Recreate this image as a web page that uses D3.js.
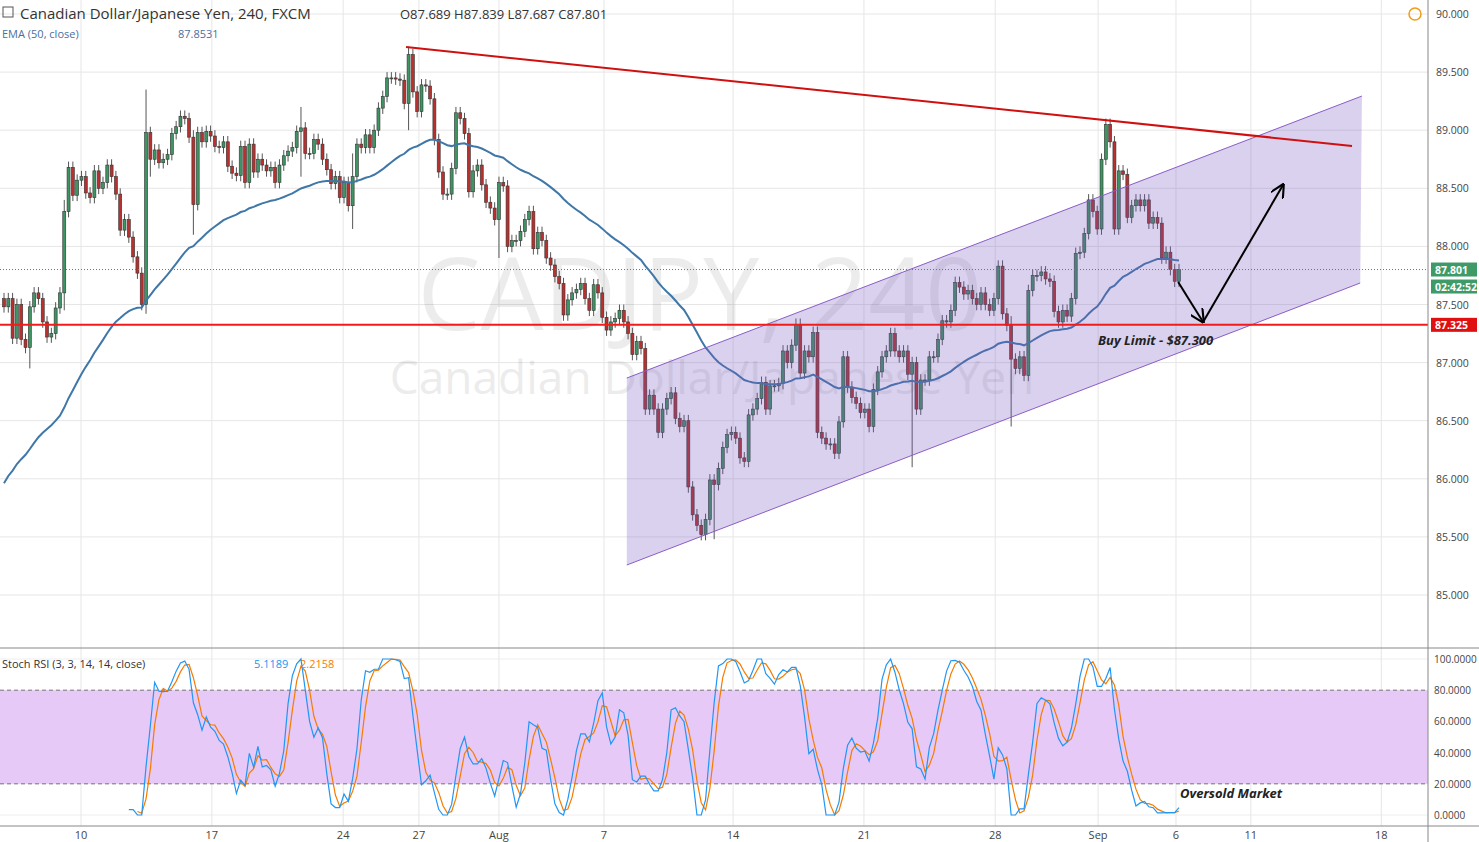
<!DOCTYPE html>
<html><head><meta charset="utf-8">
<script src="https://cdn.jsdelivr.net/npm/d3@7"></script>
<style>body{margin:0;background:#fff;font-family:"Open Sans",sans-serif}</style>
</head><body><div id="chart"></div>
<script>
// 4h closes of CAD/JPY (open = previous close)
const closes = [
87.48,87.55,87.21,87.5,87.2,87.13,87.48,87.6,87.55,87.35,87.22,87.25,
87.47,87.6,88.3,88.68,88.44,88.57,88.6,88.46,88.42,88.65,
88.5,88.55,88.7,88.6,88.45,88.14,88.23,88.08,87.91,87.77,
87.5,88.98,88.75,88.83,88.72,88.75,88.79,88.97,89.03,89.12,
89.1,88.94,88.36,88.98,88.9,88.99,88.95,88.86,88.85,88.9,
88.69,88.63,88.61,88.86,88.55,
88.88,88.64,88.75,88.7,88.65,88.68,88.55,88.7,88.78,88.82,
88.85,88.99,89.02,88.8,88.8,88.92,88.88,88.75,88.66,88.54,
88.6,88.42,88.55,88.35,88.6,88.88,88.85,88.96,88.85,89.0,
89.19,89.29,89.45,89.45,89.44,89.43,89.23,89.65,89.33,89.16,
89.39,89.38,89.27,88.92,88.64,88.45,88.45,88.67,89.15,89.1,
88.97,88.47,88.65,88.7,88.53,88.38,88.33,
88.23,88.55,88.52,88.0,88.05,88.05,88.13,88.23,
88.3,87.98,88.12,88.05,87.9,87.84,87.74,87.68,87.41,87.54,
87.6,87.63,87.68,87.55,87.45,87.67,87.6,87.39,87.28,87.35,
87.38,87.45,87.35,87.25,87.07,87.18,87.12,86.6,86.72,86.6,
86.4,86.6,86.69,86.74,86.52,86.45,86.5,85.93,85.69,85.6,
85.52,85.65,85.99,85.95,86.09,86.27,
86.38,86.4,86.35,86.18,86.15,86.55,86.6,86.69,86.83,86.6,
86.8,86.8,86.82,87.1,87.0,87.15,87.33,86.91,87.1,87.05,
87.26,86.4,86.35,86.3,86.3,86.22,86.49,87.05,86.79,86.7,
86.65,86.57,86.6,86.45,86.77,86.92,87.05,87.1,87.25,87.1,
87.05,87.1,86.9,87.0,86.6,86.85,86.85,87.05,87.05,87.2,
87.36,87.35,87.45,87.69,87.65,
87.59,87.62,87.55,87.5,87.6,87.5,87.45,87.55,87.83,87.42,
87.32,87.03,86.95,87.05,86.89,87.62,87.75,87.75,87.78,87.72,
87.7,87.44,87.35,87.45,87.4,87.55,87.94,87.95,88.11,88.4,
88.3,88.15,88.75,89.05,88.9,88.15,88.65,88.62,88.25,88.35,
88.4,88.35,88.4,88.2,88.25,88.2,87.9,87.95,87.8,87.7,
87.8];
const firstOpen = 87.55;
// notable wicks [index, high, low]
const wicks = [[6,87.4,86.95],[14,88.4,87.45],[33,89.35,87.42],[34,89.0,88.6],[44,89.0,88.1],[69,89.2,88.6],
  [81,88.8,88.15],[94,89.72,89.0],[115,88.3,87.9],[165,86.0,85.48],[211,86.5,86.1],[234,87.4,86.45],
  [256,89.08,88.7],[257,89.05,88.85],[258,88.9,88.1]];
const emaStart = 85.9;
const tickIdx = [17.9,48.3,78.8,96.4,115,139.4,169.4,199.8,230.3,254.2,272.3,289.7,320];
const tickLab = ["10","17","24","27","Aug","7","14","21","28","Sep","6","11","18"];
const priceTicks = [85,85.5,86,86.5,87,87.5,88,88.5,89,89.5,90];
const stochTicks = [0,20,40,60,80,100];
const support = 87.325, lastPrice = 87.801;
const trend = [[93.4,89.716],[313.2,88.864]];
const chanLow = [[144.7,85.258],[315.1,87.685]];
const chanUp = [[144.7,86.867],[315.5,89.294]];
const arrowPts = [[272.8,87.694],[278.6,87.35],[297.2,88.53]];

const W = 1479, H = 842, plotR = 1428;
const svg = d3.select("#chart").append("svg").attr("width", W).attr("height", H);
const x = d3.scaleLinear().domain([0, closes.length - 1]).range([4, 1179]);
const y = d3.scaleLinear().domain([85, 90]).range([595, 14]);
const ys = d3.scaleLinear().domain([0, 100]).range([815, 659]);
const bw = 3;

// grid
svg.append("g").selectAll("line").data(priceTicks).join("line")
  .attr("x1", 0).attr("x2", plotR).attr("y1", d => y(d)).attr("y2", d => y(d)).attr("stroke", "#e6e6e6");
svg.append("g").selectAll("line").data(stochTicks).join("line")
  .attr("x1", 0).attr("x2", plotR).attr("y1", d => ys(d)).attr("y2", d => ys(d)).attr("stroke", "#eee");
svg.append("g").selectAll("line").data(tickIdx).join("line")
  .attr("x1", d => x(d)).attr("x2", d => x(d)).attr("y1", 0).attr("y2", 826).attr("stroke", "#e6e6e6");

// watermark
svg.append("text").attr("x", 700).attr("y", 330).attr("text-anchor", "middle").attr("font-size", 100)
  .attr("fill", "#000").attr("opacity", 0.07).text("CADJPY, 240");
svg.append("text").attr("x", 712).attr("y", 394).attr("text-anchor", "middle").attr("font-size", 46)
  .attr("fill", "#000").attr("opacity", 0.07).text("Canadian Dollar/Japanese Yen");

// candles
const bars = closes.map((c, i) => {
  const o = i ? closes[i - 1] : firstOpen;
  let hi = Math.max(o, c) + 0.05, lo = Math.min(o, c) - 0.05;
  const w = wicks.find(v => v[0] === i);
  if (w) { hi = Math.max(hi, w[1]); lo = Math.min(lo, w[2]); }
  return {i, o, c, hi, lo};
});
const g = svg.append("g");
g.selectAll("line").data(bars).join("line")
  .attr("x1", d => x(d.i)).attr("x2", d => x(d.i)).attr("y1", d => y(d.hi)).attr("y2", d => y(d.lo))
  .attr("stroke", "#555").attr("stroke-width", 1);
g.selectAll("rect").data(bars).join("rect")
  .attr("x", d => x(d.i) - bw / 2).attr("width", bw)
  .attr("y", d => y(Math.max(d.o, d.c))).attr("height", d => Math.max(1, Math.abs(y(d.o) - y(d.c))))
  .attr("fill", d => d.c >= d.o ? "#3f9463" : "#b8312f").attr("stroke", "#333").attr("stroke-width", 0.6);

// EMA 50
const ema = [];
closes.forEach((c, i) => ema.push(i ? ema[i - 1] + (c - ema[i - 1]) * 2 / 51 : emaStart + (c - emaStart) * 2 / 51));
svg.append("path").datum(ema).attr("fill", "none").attr("stroke", "#3f77a8").attr("stroke-width", 2)
  .attr("d", d3.line().x((d, i) => x(i)).y(d => y(d)));

// channel
svg.append("path").attr("d", `M${x(chanUp[0][0])},${y(chanUp[0][1])}L${x(chanUp[1][0])},${y(chanUp[1][1])}L${x(chanLow[1][0])},${y(chanLow[1][1])}L${x(chanLow[0][0])},${y(chanLow[0][1])}Z`)
  .attr("fill", "rgba(120,90,190,0.28)");
[chanUp, chanLow].forEach(l => svg.append("line").attr("x1", x(l[0][0])).attr("y1", y(l[0][1]))
  .attr("x2", x(l[1][0])).attr("y2", y(l[1][1])).attr("stroke", "#8a5cc7").attr("stroke-width", 1));

// trend line and support
svg.append("line").attr("x1", x(trend[0][0])).attr("y1", y(trend[0][1])).attr("x2", x(trend[1][0])).attr("y2", y(trend[1][1]))
  .attr("stroke", "#d01010").attr("stroke-width", 2);
svg.append("line").attr("x1", 0).attr("x2", plotR).attr("y1", y(support)).attr("y2", y(support))
  .attr("stroke", "#f21b1b").attr("stroke-width", 2);
svg.append("line").attr("x1", 0).attr("x2", plotR).attr("y1", y(lastPrice)).attr("y2", y(lastPrice))
  .attr("stroke", "#4a8a6a").attr("stroke-dasharray", "1,2");

// arrows
const defs = svg.append("defs");
defs.append("marker").attr("id", "ah").attr("viewBox", "0 0 10 10").attr("refX", 9).attr("refY", 5)
  .attr("markerWidth", 7).attr("markerHeight", 7).attr("orient", "auto")
  .append("path").attr("d", "M0,0L10,5L0,10").attr("fill", "none").attr("stroke", "#000").attr("stroke-width", 1.5);
for (let k = 0; k < 2; k++) {
  svg.append("line").attr("x1", x(arrowPts[k][0])).attr("y1", y(arrowPts[k][1]))
    .attr("x2", x(arrowPts[k + 1][0])).attr("y2", y(arrowPts[k + 1][1]))
    .attr("stroke", "#000").attr("stroke-width", 2).attr("marker-end", "url(#ah)");
}
svg.append("text").attr("x", 1098).attr("y", 345).attr("font-size", 13).attr("font-weight", "bold")
  .attr("font-style", "italic").attr("fill", "#222").text("Buy Limit - $87.300");

// stoch RSI (3,3,14,14)
const rsi = [];
let ag = 0, al = 0;
for (let i = 1; i < closes.length; i++) {
  const ch = closes[i] - closes[i - 1], gn = Math.max(ch, 0), ls = Math.max(-ch, 0);
  if (i <= 14) { ag += gn / 14; al += ls / 14; if (i === 14) rsi[i] = 100 - 100 / (1 + ag / (al || 1e-9)); }
  else { ag = (ag * 13 + gn) / 14; al = (al * 13 + ls) / 14; rsi[i] = 100 - 100 / (1 + ag / (al || 1e-9)); }
}
const st = [];
for (let i = 27; i < closes.length; i++) {
  const win = rsi.slice(i - 13, i + 1), mn = d3.min(win), mx = d3.max(win);
  st[i] = mx > mn ? (rsi[i] - mn) / (mx - mn) * 100 : 50;
}
const sma = (a, i) => (a[i] != null && a[i - 1] != null && a[i - 2] != null) ? (a[i] + a[i - 1] + a[i - 2]) / 3 : null;
const K = closes.map((_, i) => sma(st, i)), D = closes.map((_, i) => sma(K, i));

svg.append("rect").attr("x", 0).attr("width", plotR).attr("y", ys(80)).attr("height", ys(20) - ys(80)).attr("fill", "#e6c9f7");
[20, 80].forEach(v => svg.append("line").attr("x1", 0).attr("x2", plotR).attr("y1", ys(v)).attr("y2", ys(v))
  .attr("stroke", "#777").attr("stroke-dasharray", "4,3"));
const sl = d3.line().defined(d => d != null).x((d, i) => x(i)).y(d => ys(d));
svg.append("path").attr("d", sl(D)).attr("fill", "none").attr("stroke", "#f57c00").attr("stroke-width", 1.2);
svg.append("path").attr("d", sl(K)).attr("fill", "none").attr("stroke", "#2196f3").attr("stroke-width", 1.2);
svg.append("text").attr("x", 1180).attr("y", 798).attr("font-size", 13).attr("font-weight", "bold")
  .attr("font-style", "italic").attr("fill", "#222").text("Oversold Market");

// frames
svg.append("line").attr("x1", 0).attr("x2", W).attr("y1", 648).attr("y2", 648).attr("stroke", "#888");
svg.append("line").attr("x1", 0).attr("x2", W).attr("y1", 826).attr("y2", 826).attr("stroke", "#888");
svg.append("line").attr("x1", plotR).attr("x2", plotR).attr("y1", 0).attr("y2", 842).attr("stroke", "#888");

// right axes
const ax = svg.append("g").attr("font-size", 10.5).attr("fill", "#444");
ax.selectAll(".p").data(priceTicks).join("text").attr("x", 1436).attr("y", d => y(d) + 4).text(d => d.toFixed(3));
ax.selectAll(".s").data(stochTicks).join("text").attr("x", 1434).attr("y", d => ys(d) + 4)
  .attr("font-size", 10).text(d => d.toFixed(4));
function tag(yy, col, txt) {
  svg.append("rect").attr("x", 1431).attr("y", yy - 7).attr("width", 46).attr("height", 14).attr("fill", col);
  svg.append("text").attr("x", 1435).attr("y", yy + 4).attr("font-size", 10.5).attr("font-weight", "bold").attr("fill", "#fff").text(txt);
}
tag(y(lastPrice), "#3e9b67", lastPrice.toFixed(3));
tag(y(lastPrice) + 17, "#3e9b67", "02:42:52");
tag(y(support), "#e01010", support.toFixed(3));

// bottom axis
svg.append("g").selectAll("text").data(tickIdx).join("text").attr("x", d => x(d)).attr("y", 839)
  .attr("text-anchor", "middle").attr("font-size", 11).attr("fill", "#444").text((d, i) => tickLab[i]);

// headers
const hd = svg.append("g");
hd.append("rect").attr("x", 3).attr("y", 7).attr("width", 10).attr("height", 10).attr("fill", "none").attr("stroke", "#555");
hd.append("text").attr("x", 20).attr("y", 19).attr("font-size", 15).attr("fill", "#333").text("Canadian Dollar/Japanese Yen, 240, FXCM");
hd.append("text").attr("x", 400).attr("y", 19).attr("font-size", 13).attr("fill", "#333").text("O87.689  H87.839  L87.687  C87.801");
hd.append("text").attr("x", 2).attr("y", 38).attr("font-size", 11).attr("fill", "#4a6fa0").text("EMA (50, close)");
hd.append("text").attr("x", 178).attr("y", 38).attr("font-size", 11).attr("fill", "#4a6fa0").text("87.8531");
hd.append("text").attr("x", 2).attr("y", 668).attr("font-size", 11).attr("fill", "#333").text("Stoch RSI (3, 3, 14, 14, close)");
hd.append("text").attr("x", 254).attr("y", 668).attr("font-size", 11).attr("fill", "#2196f3").text("5.1189");
hd.append("text").attr("x", 300).attr("y", 668).attr("font-size", 11).attr("fill", "#f57c00").text("2.2158");
hd.append("circle").attr("cx", 1415).attr("cy", 14).attr("r", 6).attr("fill", "none").attr("stroke", "#f39c12").attr("stroke-width", 1.5);
</script></body></html>
